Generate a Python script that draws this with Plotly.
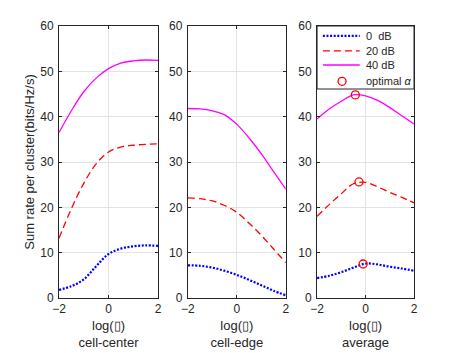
import plotly.graph_objects as go
from plotly.subplots import make_subplots

# ---------------- data ----------------
x_log = [-2, -1.5, -1, -0.5, 0, 0.5, 1, 1.5, 2]

center_0dB = [1.8, 2.6, 4.1, 7.0, 9.7, 10.9, 11.4, 11.6, 11.5]
center_20dB = [13.2, 19.7, 25.3, 29.6, 32.2, 33.3, 33.7, 33.9, 34.0]
center_40dB = [36.5, 41.3, 45.5, 48.5, 50.6, 51.8, 52.3, 52.5, 52.4]

edge_0dB = [7.2, 7.1, 6.7, 6.0, 5.1, 4.0, 2.8, 1.6, 0.6]
edge_20dB = [22.1, 21.9, 21.4, 20.4, 18.9, 16.5, 13.8, 10.8, 7.8]
edge_40dB = [41.8, 41.7, 41.3, 40.4, 38.3, 35.3, 31.8, 27.9, 24.0]

avg_0dB = [4.4, 4.9, 5.7, 6.7, 7.6, 7.4, 6.9, 6.5, 6.0]
avg_20dB = [18.0, 20.6, 23.0, 25.2, 25.5, 24.5, 23.3, 22.2, 21.0]
avg_40dB = [39.5, 41.7, 43.4, 44.8, 44.6, 43.6, 42.0, 40.2, 38.4]

opt_x = [-0.42, -0.27, -0.1]
opt_y = [44.8, 25.6, 7.5]

panel_names = ["cell-center", "cell-edge", "average"]
legend_labels = ["0\u00a0\u00a0dB", "20 dB", "40 dB", "optimal <i>α</i>"]
x_ticks = [-2, 0, 2]
y_ticks = [0, 10, 20, 30, 40, 50, 60]

# ---------------- style ----------------
BLUE, RED, MAG = "#0000ff", "#ff0000", "#ff00ff"
TXT = "#262626"
FONT = "Liberation Sans, Arial, Helvetica, sans-serif"
styles = [
    dict(color=BLUE, width=2.2, dash="2px,1.6px"),
    dict(color=RED, width=1.3, dash="7px,4px"),
    dict(color=MAG, width=1.3),
]

fig = make_subplots(rows=1, cols=3, horizontal_spacing=0.08)
doms = [[0.0, 0.279], [0.363, 0.639], [0.727, 1.0]]

panels = [
    [center_0dB, center_20dB, center_40dB],
    [edge_0dB, edge_20dB, edge_40dB],
    [avg_0dB, avg_20dB, avg_40dB],
]
for c, series in enumerate(panels, start=1):
    for s, ys in enumerate(series):
        fig.add_trace(go.Scatter(x=x_log, y=ys, mode="lines", line=dict(shape="spline", smoothing=1.0, **styles[s]),
                                 showlegend=False, hoverinfo="skip"), row=1, col=c)

fig.add_trace(go.Scatter(x=opt_x, y=opt_y, mode="markers",
                         marker=dict(symbol="circle-open", size=8, color=RED, line=dict(width=1.3, color=RED)),
                         showlegend=False), row=1, col=3)

for c in range(1, 4):
    fig.update_xaxes(row=1, col=c, domain=doms[c - 1], range=[-2, 2], tickvals=x_ticks, automargin=False,
                     ticks="inside", ticklen=3, tickcolor=TXT, showline=True, linecolor=TXT, linewidth=1,
                     mirror="ticks", showgrid=True, gridcolor="#e3e3e3", gridwidth=1, zeroline=False,
                     tickfont=dict(size=12, color=TXT, family=FONT),
                     title=dict(text="log(\u25af)<br>" + panel_names[c - 1], standoff=5,
                                font=dict(size=13, color=TXT, family=FONT)))
    fig.update_yaxes(row=1, col=c, range=[0, 60], tickvals=y_ticks, automargin=False,
                     ticks="inside", ticklen=3, tickcolor=TXT, showline=True, linecolor=TXT, linewidth=1,
                     mirror="ticks", showgrid=True, gridcolor="#e3e3e3", gridwidth=1, zeroline=False,
                     ticklabelstandoff=2,
                     tickfont=dict(size=12, color=TXT, family=FONT))
fig.update_yaxes(row=1, col=1, title=dict(text="Sum rate per cluster(bits/Hz/s)", standoff=2,
                                           font=dict(size=13, color=TXT, family=FONT)))

# ---------------- custom legend in panel 3 ----------------
fig.add_shape(type="rect", xref="x3", yref="y3", x0=-2, x1=2, y0=46.1, y1=60,
              fillcolor="white", line=dict(color=TXT, width=1), layer="above")
row_y = [57.8, 54.5, 51.4, 47.8]
for i in range(3):
    fig.add_shape(type="line", xref="x3", yref="y3", x0=-1.76, x1=-0.24, y0=row_y[i], y1=row_y[i],
                  line=styles[i], layer="above")
fig.add_shape(type="circle", xref="x3", yref="y3", xsizemode="pixel", ysizemode="pixel",
              xanchor=-0.97, yanchor=row_y[3], x0=-4, x1=4, y0=-4, y1=4,
              line=dict(color=RED, width=1.3), layer="above")
for i, lab in enumerate(legend_labels):
    fig.add_annotation(xref="x3", yref="y3", x=-0.05, y=row_y[i], text=lab, showarrow=False,
                       xanchor="left", yanchor="middle", font=dict(size=11, color=TXT, family=FONT))

fig.update_layout(width=458, height=353, autosize=False,
                  margin=dict(l=59, r=44, t=26, b=55),
                  paper_bgcolor="white", plot_bgcolor="white",
                  font=dict(family=FONT, color=TXT), showlegend=False)

fig.write_html("out.html", config={"displayModeBar": False},
               post_script="document.body.style.margin='0';")
